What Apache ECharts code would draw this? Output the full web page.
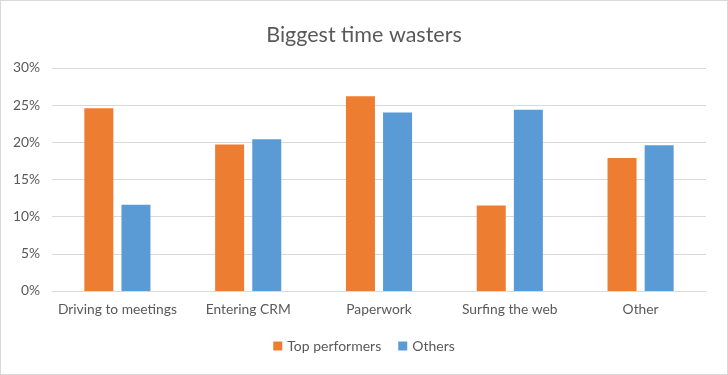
<!DOCTYPE html>
<html><head><meta charset="utf-8">
<script src="https://cdn.jsdelivr.net/npm/echarts@6/dist/echarts.min.js"></script>
<style>html,body{margin:0;padding:0;background:#fff}#c{width:726px;height:373px;border:1px solid #d9d9d9}</style>
</head><body><div id="c"></div>
<script>
const categories = ['Driving to meetings','Entering CRM','Paperwork','Surfing the web','Other'];
const topPerformers = [24.6, 19.7, 26.2, 11.5, 17.9];
const others = [11.6, 20.4, 24.0, 24.4, 19.6];
const yTicks = [0,5,10,15,20,25,30];
const chart = echarts.init(document.getElementById('c'));
const font = 'Lato, "Open Sans", sans-serif';
chart.setOption({
  animation:false,
  textStyle:{fontFamily:font},
  title:{text:'Biggest time wasters',left:'center',top:18,textStyle:{fontFamily:font,fontSize:21.5,fontWeight:'normal',color:'#595959'}},
  legend:{bottom:16,left:'center',itemWidth:9,itemHeight:9,itemGap:17,itemStyle:{borderWidth:0},icon:'rect',textStyle:{fontFamily:font,fontSize:14,color:'#595959'},data:['Top performers','Others']},
  grid:{left:51,right:21,top:67,bottom:83},
  xAxis:{type:'category',data:categories,axisLine:{lineStyle:{color:'#d9d9d9'}},axisTick:{show:false},axisLabel:{interval:0,fontFamily:font,fontSize:13.8,color:'#595959',margin:12}},
  yAxis:{type:'value',min:yTicks[0],max:yTicks[yTicks.length-1],interval:5,axisLine:{show:false},axisTick:{show:false},splitLine:{lineStyle:{color:'#d9d9d9'}},axisLabel:{fontFamily:font,fontSize:13.8,color:'#595959',margin:12,formatter:v=>v+'%'}},
  series:[
    {name:'Top performers',type:'bar',data:topPerformers,barWidth:29,barGap:'28%',itemStyle:{color:'#ED7D31'}},
    {name:'Others',type:'bar',data:others,barWidth:29,itemStyle:{color:'#5B9BD5'}}
  ]
});
</script></body></html>
